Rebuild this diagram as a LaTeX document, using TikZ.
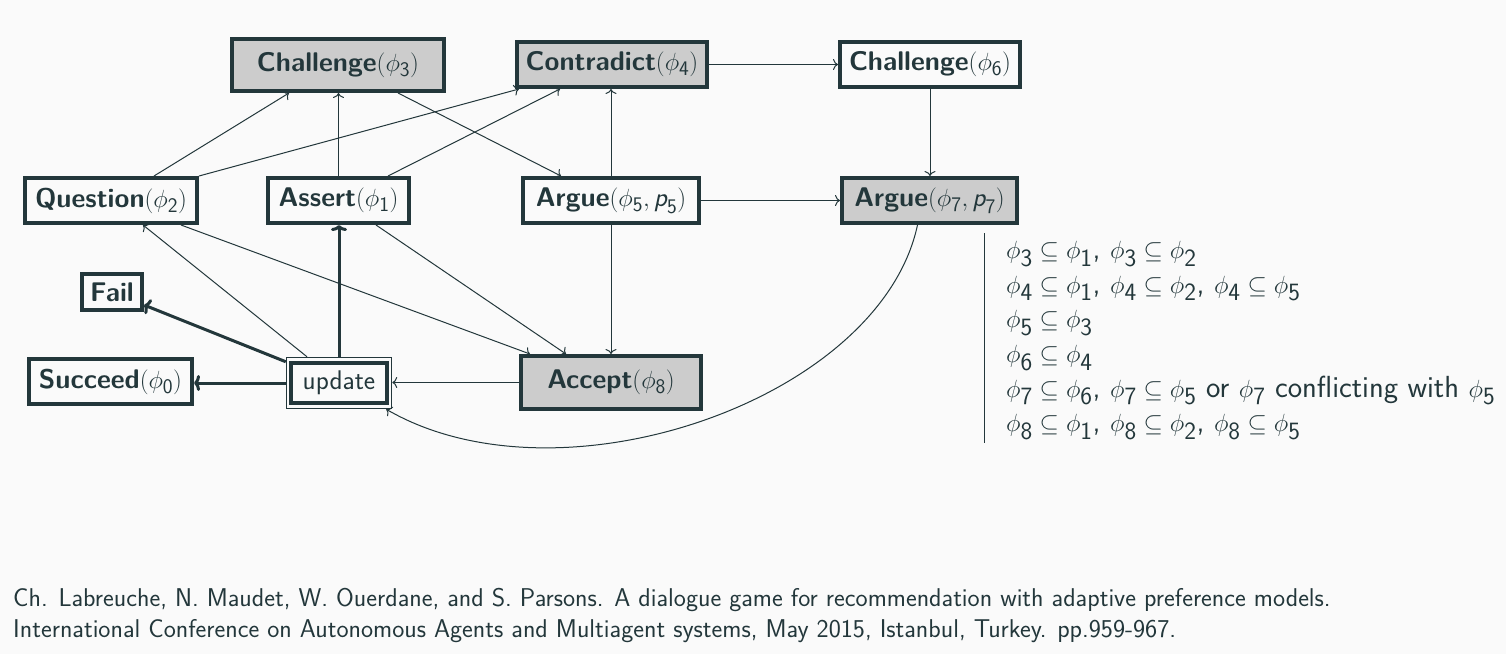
\documentclass[tikz,border=0pt]{standalone}
\usepackage{amsmath,amssymb}
\usetikzlibrary{arrows.meta}
\def\defaultscriptratio{.78}
\definecolor{ink}{HTML}{23373B}
\definecolor{boxgray}{HTML}{CCCCCC}
\definecolor{bg}{HTML}{FAFAFA}
\newcommand\ph[1]{\phi_{\mathsf{#1}}}
\newcommand\pp[1]{\textsf{\mdseries\itshape p}_{\mathsf{#1}}}
\newcommand\boxfont{\fontsize{27}{32}\selectfont\sffamily\bfseries}
\newcommand\listfont{\fontsize{30.5}{35}\selectfont\sffamily}
\newcommand\notefont{\fontsize{25.7}{31}\selectfont\sffamily}
\tikzset{
  box/.style={draw=ink, line width=4pt, text=ink, font=\boxfont, inner sep=0pt, minimum height=45pt},
  gbox/.style={box, fill=boxgray},
  wbox/.style={box, fill=bg},
  link/.style={-{To[length=5pt,width=11pt]}, draw=ink, line width=1pt},
  strong/.style={-{To[length=6pt,width=16pt]}, draw=ink, line width=3pt},
  listline/.style={anchor=base west, inner sep=0pt, text=ink, font=\listfont},
  noteline/.style={anchor=base west, inner sep=0pt, text=ink, font=\notefont},
}
\begin{document}
\begin{tikzpicture}[x=1pt,y=-1pt]
\fill[bg] (0,0) rectangle (1506,654);
\useasboundingbox (0,0) rectangle (1506,654);

% nodes
\node[gbox, minimum width=212pt, minimum height=52pt] (c3) at (338,65) {Challenge$(\ph3)$};
\node[gbox, minimum width=190pt] (c4) at (612,64.5) {Contradict$(\ph4)$};
\node[wbox, minimum width=180pt] (c6) at (930,64.5) {Challenge$(\ph6)$};
\node[wbox, minimum width=172pt] (q2) at (111,200.5) {Question$(\ph2)$};
\node[wbox, minimum width=141pt] (a1) at (338.5,200.5) {Assert$(\ph1)$};
\node[wbox, minimum width=176pt] (ar5) at (611,200.5) {Argue$(\ph5, \pp5)$};
\node[gbox, minimum width=175pt] (ar7) at (929.5,200.5) {Argue$(\ph7, \pp7)$};
\node[wbox, minimum width=60pt, minimum height=36pt] (fail) at (112,292) {Fail};
\node[wbox, minimum width=163pt] (s0) at (110.5,381.5) {Succeed$(\ph0)$};
\node[draw=ink, line width=1.5pt, fill=bg, minimum width=105pt, minimum height=51pt, inner sep=0pt] (up) at (339,383) {};
\node[box, fill=bg, minimum width=96pt, minimum height=40pt, font=\fontsize{27}{32}\selectfont\sffamily] (upin) at (339,383) {update};
\node[gbox, minimum width=180pt, minimum height=53pt] (acc) at (611,382.5) {Accept$(\ph8)$};

% thin connectors
\draw[link] ([xshift=43pt]q2.north) -- ([xshift=-49pt]c3.south);
\draw[link] (q2.north east) -- ([xshift=4pt]c4.south west);
\draw[link] (a1.north) -- (a1.north |- c3.south);
\draw[link] ([xshift=49.5pt]a1.north) -- ([xshift=-52pt]c4.south);
\draw[link] ([xshift=60pt]c3.south) -- ([xshift=-50pt]ar5.north);
\draw[link] (ar5.north) -- (ar5.north |- c4.south);
\draw[link] (c4.east) -- (c6.west);
\draw[link] (c6.south) -- (c6.south |- ar7.north);
\draw[link] (ar5.east) -- (ar5.east -| ar7.west);
\draw[link] (ar5.south) -- (ar5.south |- acc.north);
\draw[link] ([xshift=70pt]q2.south) -- ([xshift=-81pt]acc.north);
\draw[link] ([xshift=37.5pt]a1.south) -- ([xshift=-45pt]acc.north);
\draw[link] ([xshift=-32pt]up.north) -- ([xshift=32pt]q2.south);
\draw[link] (acc.west) -- (acc.west -| up.east);
\draw[link] ([xshift=-12pt]ar7.south) .. controls (880,400) and (560,510) .. ([xshift=-6pt]up.south east);

% thick connectors
\draw[strong] (up.north) -- (up.north |- a1.south);
\draw[strong] ([yshift=-5pt]up.north west) -- ([yshift=-13pt]fail.east);
\draw[strong] (up.west) -- (up.west -| s0.east);

% conditions
\draw[ink, line width=1pt] (984,233) -- (984,443);
\node[listline] (l1) at (1006,258.6) {$\ph3 \subseteq \ph1$, $\ph3 \subseteq \ph2$};
\node[listline] (l2) at (1006,293.2) {$\ph4 \subseteq \ph1$, $\ph4 \subseteq \ph2$, $\ph4 \subseteq \ph5$};
\node[listline] (l3) at (1006,327.8) {$\ph5 \subseteq \ph3$};
\node[listline] (l4) at (1006,362.4) {$\ph6 \subseteq \ph4$};
\node[listline] (l5) at (1006,397.0) {$\ph7 \subseteq \ph6$, $\ph7 \subseteq \ph5$ or $\ph7$ conflicting with $\ph5$};
\node[listline] (l6) at (1006,431.6) {$\ph8 \subseteq \ph1$, $\ph8 \subseteq \ph2$, $\ph8 \subseteq \ph5$};

% reference
\node[noteline] (n1) at (13,606) {Ch. Labreuche, N. Maudet, W. Ouerdane, and S. Parsons. A dialogue game for recommendation with adaptive preference models.};
\node[noteline] (n2) at (13,637) {International Conference on Autonomous Agents and Multiagent systems, May 2015, Istanbul, Turkey. pp.959-967.};
\end{tikzpicture}
\end{document}
